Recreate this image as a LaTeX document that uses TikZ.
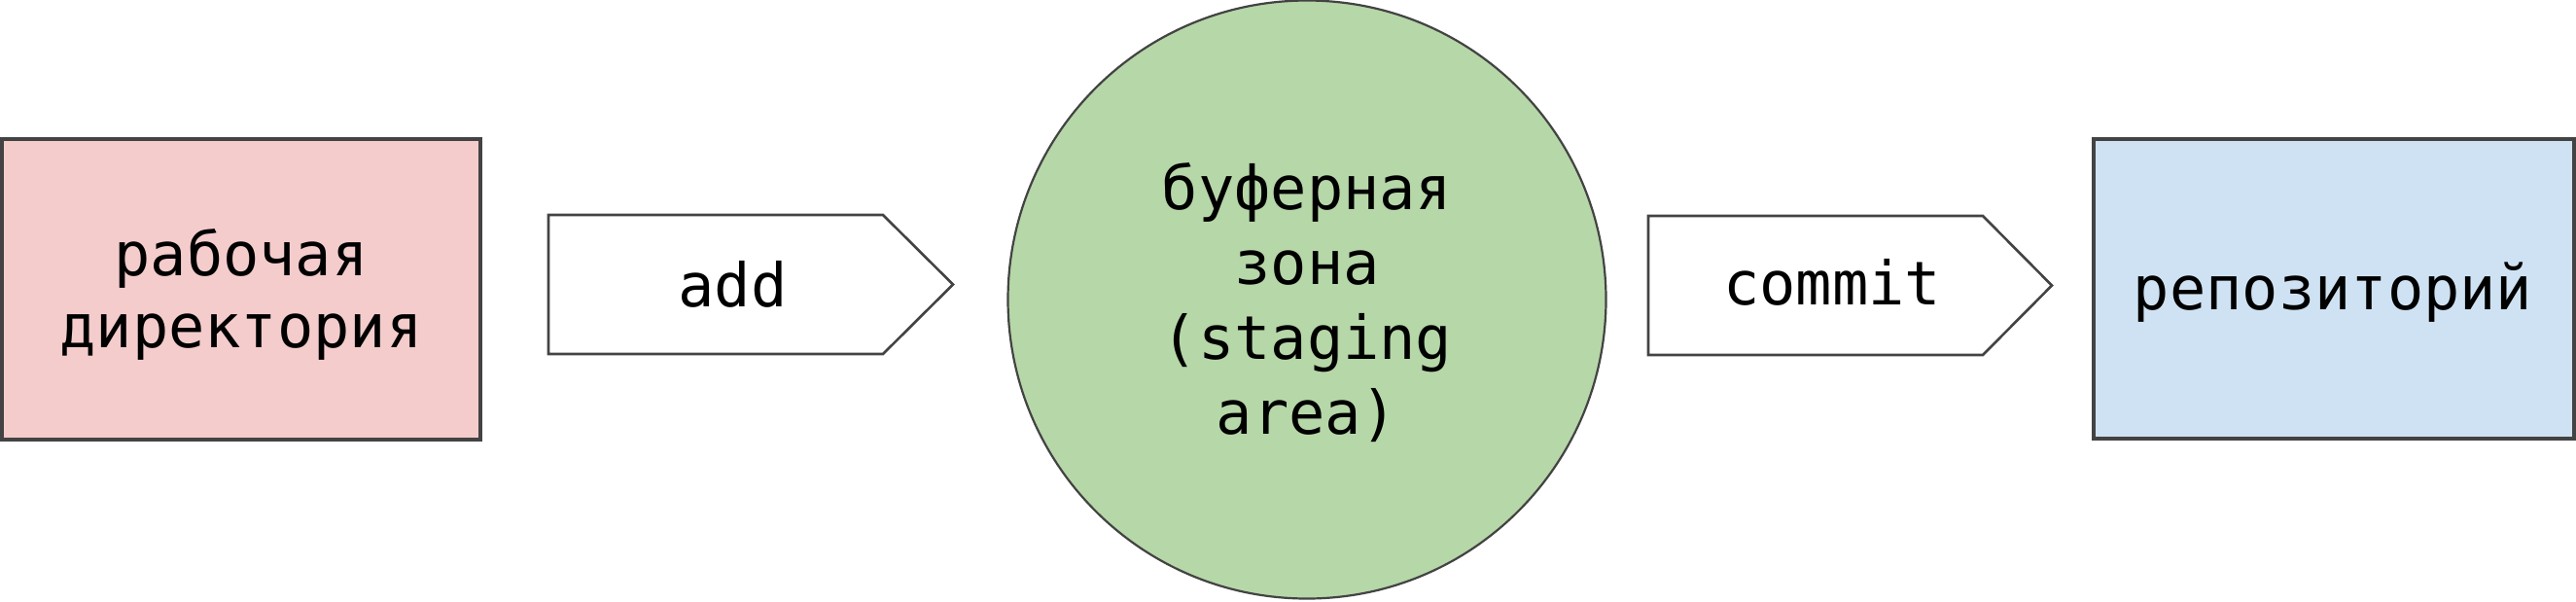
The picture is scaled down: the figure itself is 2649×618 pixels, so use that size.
\documentclass[tikz,border=0pt]{standalone}
\usepackage{fontspec}
\newfontfamily\diagmono{DejaVu Sans Mono}
\definecolor{pinkc}{HTML}{F4CCCC}
\definecolor{greenc}{HTML}{B6D7A8}
\definecolor{bluec}{HTML}{CFE2F3}
\definecolor{edgec}{HTML}{434343}
\tikzset{
  stagebox/.style={draw=edgec, line width=1.6pt, rectangle, inner sep=0pt},
  stagecircle/.style={draw=edgec, line width=1.1pt, circle, inner sep=0pt, fill=greenc},
  flowarrow/.style={draw=edgec, line width=1.3pt, fill=white, line join=miter},
  lbl/.style={font=\diagmono\fontsize{31pt}{37pt}\selectfont, inner sep=0pt, align=center, text=black},
  lblc/.style={font=\diagmono\fontsize{31pt}{38.5pt}\selectfont, inner sep=0pt, align=center, text=black}
}
\begin{document}
\begin{tikzpicture}[x=0.5pt, y=-0.5pt]
\useasboundingbox (0,0) rectangle (2649,618);
% shapes
\node[stagebox, fill=pinkc, minimum width=246pt, minimum height=154.5pt] (wd) at (248,297.5) {};
\node[stagecircle, minimum size=307.5pt] (st) at (1344,308) {};
\node[stagebox, fill=bluec, minimum width=247pt, minimum height=154pt] (repo) at (2400,297) {};
% arrows
\coordinate (a1) at (564,221);
\coordinate (a2) at (908,221);
\coordinate (a3) at (980,292.5);
\coordinate (a4) at (908,364);
\coordinate (a5) at (564,364);
\draw[flowarrow] (a1) -- (a2) -- (a3) -- (a4) -- (a5) -- cycle;
\coordinate (c1) at (1695,222);
\coordinate (c2) at (2039,222);
\coordinate (c3) at (2110,293.5);
\coordinate (c4) at (2039,365);
\coordinate (c5) at (1695,365);
\draw[flowarrow] (c1) -- (c2) -- (c3) -- (c4) -- (c5) -- cycle;
% labels (base anchor = baseline of last line)
\node[lbl, anchor=base] (wdtext) at (248,357) {рабочая\\директория};
\node[lblc, anchor=base] (sttext) at (1344,446) {буферная\\зона\\(staging\\area)};
\node[lbl, anchor=base] (repotext) at (2399,318) {репозиторий};
\node[lbl, anchor=base] (addtext) at (753.5,315) {add};
\node[lbl, anchor=base] (committext) at (1884,313) {commit};
\end{tikzpicture}
\end{document}
